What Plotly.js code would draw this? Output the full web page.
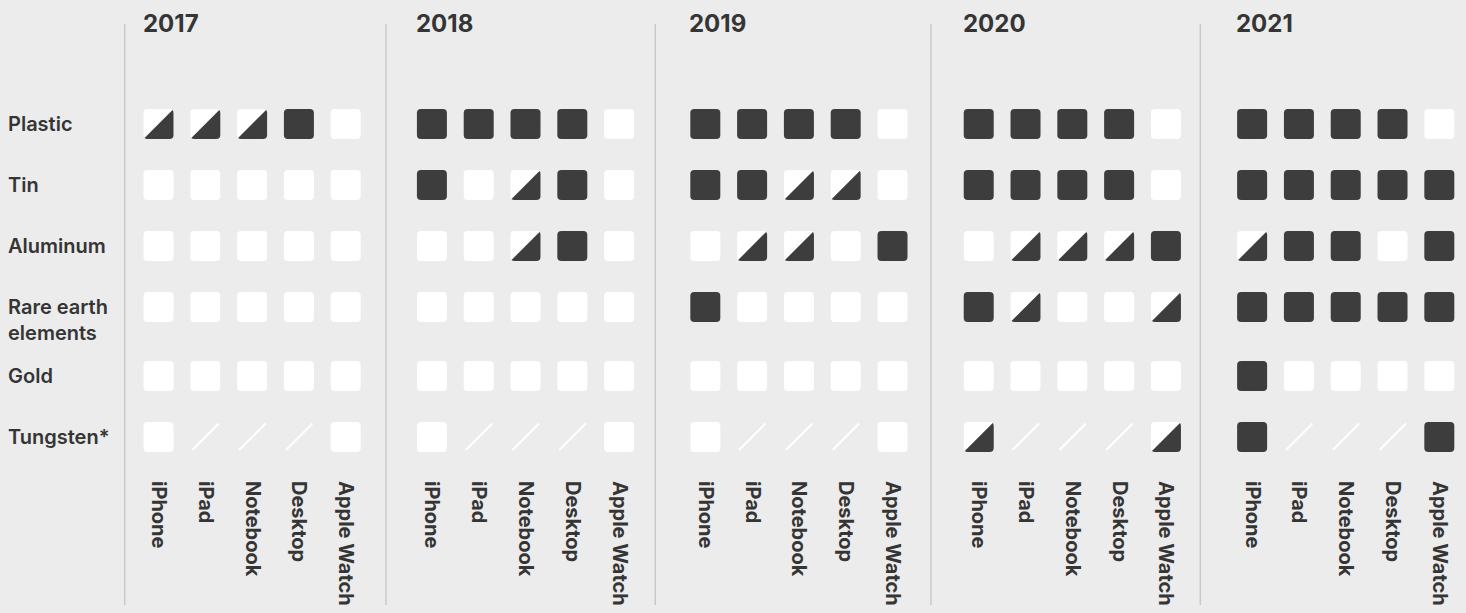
<!DOCTYPE html>
<html><head><meta charset="utf-8">
<script src="https://cdn.plot.ly/plotly-3.0.1.min.js"></script>
<style>html,body{margin:0;padding:0;background:#ececec;overflow:hidden;} #chart{width:1466px;height:613px;}</style>
</head><body><div id="chart"></div>
<script>
// ---- data ----
const years = ['2017', '2018', '2019', '2020', '2021'];
const materials = ['Plastic', 'Tin', 'Aluminum', 'Rare earth<br>elements', 'Gold', 'Tungsten*'];
const products = ['iPhone', 'iPad', 'Notebook', 'Desktop', 'Apple Watch'];
// 2 = full, 1 = partial, 0 = none, -1 = not applicable
// rows: materials, columns: products
const status2017 = [[1,1,1,2,0],[0,0,0,0,0],[0,0,0,0,0],[0,0,0,0,0],[0,0,0,0,0],[0,-1,-1,-1,0]];
const status2018 = [[2,2,2,2,0],[2,0,1,2,0],[0,0,1,2,0],[0,0,0,0,0],[0,0,0,0,0],[0,-1,-1,-1,0]];
const status2019 = [[2,2,2,2,0],[2,2,1,1,0],[0,1,1,0,2],[2,0,0,0,0],[0,0,0,0,0],[0,-1,-1,-1,0]];
const status2020 = [[2,2,2,2,0],[2,2,2,2,0],[0,1,1,1,2],[2,1,0,0,1],[0,0,0,0,0],[1,-1,-1,-1,1]];
const status2021 = [[2,2,2,2,0],[2,2,2,2,2],[1,2,2,0,2],[2,2,2,2,2],[2,0,0,0,0],[2,-1,-1,-1,2]];
const statusByYear = [status2017, status2018, status2019, status2020, status2021];
const statusNames = {'2': 'Recycled content', '1': 'Partial', '0': 'None', '-1': 'Not applicable'};

// ---- layout constants ----
const GROUP = 5.842;               // data units between year groups
const ROW_GAP_EXTRA = 69 / 61 - 1; // extra room after the two-line label
const rowY = materials.map((m, i) => i + (i >= 4 ? ROW_GAP_EXTRA : 0));
const sepX = [-0.722, 4.861, 10.615, 16.506, 22.261];
const DARK = '#3d3d3d', WHITE = '#ffffff', BG = '#ececec', TXT = '#353535';
const FONT = 'Inter, "Noto Sans", sans-serif';

const H = 15, R = 4;
const squarePath = `M ${-H+R},${-H} L ${H-R},${-H} Q ${H},${-H} ${H},${-H+R} L ${H},${H-R} Q ${H},${H} ${H-R},${H} L ${-H+R},${H} Q ${-H},${H} ${-H},${H-R} L ${-H},${-H+R} Q ${-H},${-H} ${-H+R},${-H} Z`;
const trianglePath = `M -14,-14 Q -13,-15 -11,-15 L 11,-15 Q 15,-15 15,-11 L 15,11 Q 15,13 14,14 Z`;
const slashPath = 'M -13,-13 L 13.5,13.5';

const shapes = [];
const hx = [], hy = [], ht = [];
const tickvals = [], ticktext = [];

sepX.forEach(x => shapes.push({type: 'line', xref: 'x', yref: 'paper', x0: x, x1: x,
  y0: (470 - 24) / 470, y1: (470 - 605) / 470, line: {color: '#c9c9c9', width: 1.5}, layer: 'below'}));

years.forEach((yr, g) => {
  const st = statusByYear[g];
  products.forEach((p, c) => {
    const x = g * GROUP + c;
    tickvals.push(x); ticktext.push(p);
    materials.forEach((m, r) => {
      const v = st[r][c];
      const y = rowY[r];
      const base = {type: 'path', xref: 'x', yref: 'y', xsizemode: 'pixel', ysizemode: 'pixel',
                    xanchor: x, yanchor: y};
      if (v === -1) {
        shapes.push(Object.assign({}, base, {path: slashPath, line: {color: WHITE, width: 2}}));
      } else {
        shapes.push(Object.assign({}, base, {path: squarePath, fillcolor: v === 2 ? DARK : WHITE, line: {width: 0}}));
        if (v === 1) shapes.push(Object.assign({}, base, {path: trianglePath, fillcolor: DARK, line: {width: 0}}));
      }
      hx.push(x); hy.push(y);
      ht.push(`${yr} · ${p} · ${m.replace('<br>', ' ')}: ${statusNames[String(v)]}`);
    });
  });
});

const annotations = [];
years.forEach((yr, g) => annotations.push({xref: 'x', yref: 'paper', x: g * GROUP, xanchor: 'left', xshift: -18,
  y: (470 - 23.5) / 470, yanchor: 'middle', text: yr, showarrow: false,
  font: {family: FONT, size: 24, weight: 700, color: TXT}}));
materials.forEach((m, r) => {
  const two = m.indexOf('<br>') >= 0;
  annotations.push({xref: 'paper', yref: 'y', x: 6 / 1466, xanchor: 'left', y: rowY[r],
    yanchor: two ? 'top' : 'middle', yshift: two ? 14 : 0, align: 'left', text: m, showarrow: false,
    font: {family: FONT, size: 20, weight: 600, color: TXT}});
});

const data = [{type: 'scatter', mode: 'markers', x: hx, y: hy, text: ht, hoverinfo: 'text',
  marker: {size: 30, symbol: 'square', opacity: 0}, showlegend: false}];

const layout = {
  width: 1466, height: 613,
  margin: {l: 0, r: 0, t: 0, b: 143, pad: 0},
  paper_bgcolor: BG, plot_bgcolor: BG,
  showlegend: false,
  xaxis: {range: [-158.5 / 46.8, (1466 - 158.5) / 46.8], showgrid: false, zeroline: false, showline: false,
    tickvals: tickvals, ticktext: ticktext, tickangle: 90, ticks: '', ticklabelstandoff: 10, automargin: false,
    tickfont: {family: FONT, size: 20, weight: 700, color: TXT}, fixedrange: true},
  yaxis: {range: [(470 - 124) / 61, -124 / 61], showgrid: false, zeroline: false, showline: false,
    showticklabels: false, ticks: '', automargin: false, fixedrange: true},
  shapes: shapes,
  annotations: annotations
};
Plotly.newPlot('chart', data, layout, {displayModeBar: false, responsive: false});
</script></body></html>
